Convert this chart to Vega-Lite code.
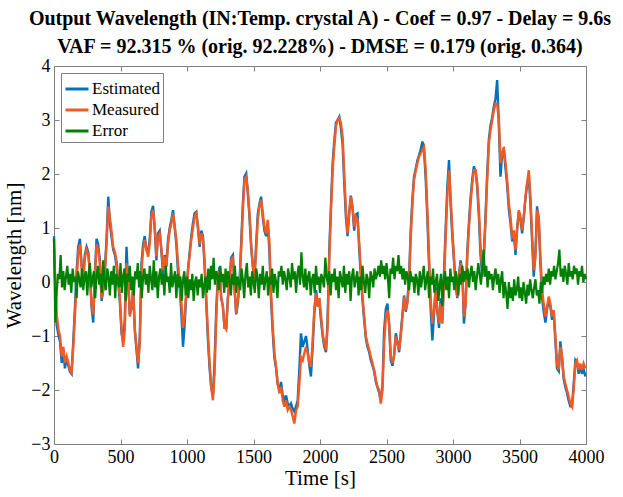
{
  "$schema": "https://vega.github.io/schema/vega-lite/v6.json",
  "width": 532,
  "height": 378,
  "autosize": {"type": "none"},
  "padding": {"left": 54, "top": 66, "right": 37, "bottom": 53},
  "background": "white",
  "config": {"font": "Liberation Serif", "view": {"stroke": null}, "axis": {"labelFont": "Liberation Serif", "titleFont": "Liberation Serif"}, "legend": {"labelFont": "Liberation Serif"}},
  "title": {
    "text": ["Output  Wavelength (IN:Temp. crystal A) - Coef = 0.97 - Delay = 9.6s", "VAF = 92.315 % (orig. 92.228%) - DMSE = 0.179 (orig. 0.364)"],
    "font": "Liberation Serif", "fontSize": 20, "fontWeight": "bold", "color": "black",
    "anchor": "middle", "offset": 0, "lineHeight": 28
  },
  "datasets": {
    "main": [
      {"t":0,"m":0.6,"e":0.85},{"t":10,"m":0.0,"e":-0.2},{"t":20,"m":-0.6,"e":-0.8},{"t":35,"m":-0.9,"e":-1.0},{"t":45,"m":-1.0,"e":-1.1},
      {"t":58,"m":-1.38,"e":-1.5},{"t":70,"m":-1.2,"e":-1.25},{"t":82,"m":-1.5,"e":-1.6},{"t":95,"m":-1.38,"e":-1.4},{"t":108,"m":-1.5,"e":-1.55},
      {"t":120,"m":-1.62,"e":-1.66},{"t":132,"m":-1.68,"e":-1.7},{"t":145,"m":-1.2,"e":-1.1},{"t":158,"m":-0.6,"e":-0.45},{"t":170,"m":0.0,"e":0.2},
      {"t":182,"m":0.55,"e":0.65},{"t":195,"m":0.7,"e":0.8},{"t":208,"m":0.25,"e":0.3},{"t":220,"m":0.05,"e":0.1},{"t":232,"m":0.45,"e":0.5},
      {"t":245,"m":0.6,"e":0.65},{"t":258,"m":0.5,"e":0.55},{"t":270,"m":0.2,"e":0.15},{"t":282,"m":-0.4,"e":-0.45},{"t":295,"m":-0.6,"e":-0.75},
      {"t":308,"m":0.1,"e":0.2},{"t":320,"m":0.7,"e":0.8},{"t":332,"m":0.6,"e":0.7},{"t":345,"m":0.35,"e":0.4},{"t":358,"m":-0.3,"e":-0.35},
      {"t":370,"m":-0.15,"e":-0.15},{"t":382,"m":0.15,"e":0.2},{"t":395,"m":0.7,"e":0.8},{"t":408,"m":1.4,"e":1.58},{"t":420,"m":1.2,"e":1.1},
      {"t":432,"m":0.95,"e":0.85},{"t":445,"m":0.65,"e":0.6},{"t":458,"m":0.55,"e":0.5},{"t":470,"m":0.4,"e":0.3},{"t":482,"m":0.1,"e":0.0},
      {"t":495,"m":-0.27,"e":-0.35},{"t":508,"m":-0.89,"e":-0.95},{"t":520,"m":-1.2,"e":-1.1},{"t":532,"m":-0.9,"e":-0.7},{"t":545,"m":0.35,"e":0.65},
      {"t":558,"m":0.1,"e":0.0},{"t":570,"m":-0.64,"e":-0.6},{"t":582,"m":-0.45,"e":-0.5},{"t":595,"m":-0.15,"e":-0.1},{"t":608,"m":-0.89,"e":-0.9},
      {"t":620,"m":-1.2,"e":-1.25},{"t":632,"m":-1.5,"e":-1.6},{"t":645,"m":-1.15,"e":-1.0},{"t":658,"m":0.2,"e":0.35},{"t":670,"m":0.6,"e":0.7},
      {"t":682,"m":0.78,"e":0.85},{"t":695,"m":0.6,"e":0.6},{"t":708,"m":0.47,"e":0.55},{"t":720,"m":0.72,"e":0.8},{"t":732,"m":1.21,"e":1.3},
      {"t":745,"m":1.33,"e":1.41},{"t":758,"m":1.02,"e":0.95},{"t":770,"m":0.47,"e":0.4},{"t":782,"m":0.84,"e":0.9},{"t":795,"m":0.9,"e":0.95},
      {"t":808,"m":0.6,"e":0.55},{"t":820,"m":0.22,"e":0.15},{"t":832,"m":0.47,"e":0.5},{"t":845,"m":0.28,"e":0.3},{"t":858,"m":0.72,"e":0.8},
      {"t":870,"m":0.96,"e":1.0},{"t":882,"m":1.08,"e":1.15},{"t":895,"m":1.27,"e":1.33},{"t":908,"m":1.02,"e":1.0},{"t":920,"m":0.78,"e":0.7},
      {"t":932,"m":0.35,"e":0.2},{"t":945,"m":0.04,"e":-0.1},{"t":958,"m":-0.4,"e":-0.6},{"t":970,"m":-0.85,"e":-1.2},{"t":982,"m":-0.65,"e":-0.8},
      {"t":995,"m":-0.15,"e":-0.2},{"t":1008,"m":0.2,"e":0.25},{"t":1020,"m":0.5,"e":0.55},{"t":1032,"m":0.78,"e":0.84},{"t":1045,"m":1.0,"e":1.1},
      {"t":1057,"m":1.21,"e":1.27},{"t":1070,"m":1.27,"e":1.3},{"t":1082,"m":1.05,"e":1.0},{"t":1095,"m":0.7,"e":0.65},{"t":1108,"m":0.9,"e":0.95},
      {"t":1120,"m":0.8,"e":0.85},{"t":1132,"m":0.4,"e":0.3},{"t":1145,"m":-0.3,"e":-0.4},{"t":1157,"m":-0.95,"e":-1.05},{"t":1170,"m":-1.5,"e":-1.6},
      {"t":1182,"m":-1.94,"e":-1.95},{"t":1195,"m":-2.19,"e":-2.1},{"t":1207,"m":-1.7,"e":-1.5},{"t":1220,"m":-0.65,"e":-0.5},{"t":1232,"m":0.04,"e":0.1},
      {"t":1245,"m":0.22,"e":0.28},{"t":1257,"m":-0.27,"e":-0.3},{"t":1270,"m":-0.46,"e":-0.45},{"t":1282,"m":-0.83,"e":-0.85},{"t":1295,"m":-0.88,"e":-0.85},
      {"t":1307,"m":-0.33,"e":-0.3},{"t":1320,"m":0.04,"e":0.0},{"t":1332,"m":0.4,"e":0.45},{"t":1345,"m":0.47,"e":0.5},{"t":1357,"m":-0.08,"e":-0.1},
      {"t":1370,"m":-0.58,"e":-0.6},{"t":1382,"m":-0.33,"e":-0.4},{"t":1395,"m":-0.08,"e":0.0},{"t":1407,"m":0.59,"e":0.7},{"t":1420,"m":1.33,"e":1.45},
      {"t":1432,"m":1.89,"e":1.95},{"t":1445,"m":1.95,"e":2.01},{"t":1457,"m":1.7,"e":1.65},{"t":1470,"m":1.27,"e":1.2},{"t":1482,"m":0.72,"e":0.65},
      {"t":1495,"m":0.28,"e":0.3},{"t":1507,"m":0.04,"e":0.1},{"t":1520,"m":0.59,"e":0.7},{"t":1532,"m":1.15,"e":1.25},{"t":1545,"m":1.4,"e":1.45},
      {"t":1557,"m":1.52,"e":1.58},{"t":1570,"m":1.27,"e":1.2},{"t":1582,"m":1.02,"e":0.95},{"t":1595,"m":0.9,"e":0.85},{"t":1607,"m":1.15,"e":1.1},
      {"t":1620,"m":0.72,"e":0.55},{"t":1632,"m":-0.21,"e":-0.35},{"t":1645,"m":-0.83,"e":-0.95},{"t":1657,"m":-1.32,"e":-1.4},{"t":1670,"m":-1.57,"e":-1.6},
      {"t":1682,"m":-1.88,"e":-1.9},{"t":1695,"m":-2.06,"e":-2.0},{"t":1707,"m":-1.94,"e":-1.85},{"t":1720,"m":-2.19,"e":-2.1},{"t":1732,"m":-2.31,"e":-2.2},
      {"t":1745,"m":-2.19,"e":-2.1},{"t":1757,"m":-2.37,"e":-2.25},{"t":1770,"m":-2.31,"e":-2.3},{"t":1782,"m":-2.37,"e":-2.25},{"t":1795,"m":-2.49,"e":-2.35},
      {"t":1807,"m":-2.62,"e":-2.4},{"t":1820,"m":-2.37,"e":-2.3},{"t":1832,"m":-2.31,"e":-2.2},{"t":1845,"m":-1.88,"e":-1.6},{"t":1857,"m":-1.39,"e":-0.95},
      {"t":1870,"m":-1.45,"e":-1.2},{"t":1882,"m":-1.32,"e":-1.1},{"t":1895,"m":-1.2,"e":-1.0},{"t":1907,"m":-1.32,"e":-1.25},{"t":1920,"m":-1.5,"e":-1.55},
      {"t":1932,"m":-1.57,"e":-1.75},{"t":1945,"m":-1.08,"e":-1.2},{"t":1957,"m":-0.52,"e":-0.6},{"t":1970,"m":-0.21,"e":-0.15},{"t":1982,"m":-0.46,"e":-0.4},
      {"t":1995,"m":-0.3,"e":-0.35},{"t":2007,"m":-0.6,"e":-0.7},{"t":2020,"m":-0.95,"e":-1.0},{"t":2032,"m":-1.14,"e":-1.2},{"t":2045,"m":-1.26,"e":-1.3},
      {"t":2057,"m":-0.85,"e":-0.7},{"t":2070,"m":0.47,"e":0.6},{"t":2082,"m":1.27,"e":1.4},{"t":2095,"m":2.07,"e":2.2},{"t":2107,"m":2.5,"e":2.6},
      {"t":2120,"m":2.88,"e":2.95},{"t":2132,"m":3.0,"e":3.0},{"t":2145,"m":3.04,"e":3.06},{"t":2157,"m":2.95,"e":2.85},{"t":2170,"m":2.69,"e":2.55},
      {"t":2182,"m":2.01,"e":1.85},{"t":2195,"m":1.33,"e":1.2},{"t":2207,"m":0.9,"e":0.85},{"t":2220,"m":1.27,"e":1.3},{"t":2232,"m":1.58,"e":1.6},
      {"t":2245,"m":1.4,"e":1.35},{"t":2257,"m":1.02,"e":0.95},{"t":2270,"m":1.21,"e":1.25},{"t":2282,"m":1.15,"e":1.27},{"t":2295,"m":0.72,"e":0.6},
      {"t":2307,"m":0.22,"e":0.1},{"t":2320,"m":-0.27,"e":-0.35},{"t":2332,"m":-0.64,"e":-0.7},{"t":2345,"m":-1.01,"e":-1.05},{"t":2357,"m":-1.14,"e":-1.2},
      {"t":2370,"m":-1.26,"e":-1.3},{"t":2382,"m":-1.38,"e":-1.45},{"t":2395,"m":-1.51,"e":-1.55},{"t":2407,"m":-1.63,"e":-1.65},{"t":2420,"m":-1.81,"e":-1.85},
      {"t":2432,"m":-1.94,"e":-1.95},{"t":2445,"m":-2.0,"e":-2.05},{"t":2457,"m":-2.25,"e":-2.2},{"t":2470,"m":-2.0,"e":-1.9},{"t":2482,"m":-1.14,"e":-0.9},
      {"t":2495,"m":-0.64,"e":-0.5},{"t":2507,"m":-0.52,"e":-0.4},{"t":2520,"m":-0.77,"e":-0.8},{"t":2532,"m":-1.38,"e":-1.45},{"t":2545,"m":-1.5,"e":-1.55},
      {"t":2557,"m":-1.38,"e":-1.35},{"t":2570,"m":-1.01,"e":-0.95},{"t":2582,"m":-1.14,"e":-1.1},{"t":2595,"m":-1.26,"e":-1.3},{"t":2607,"m":-1.01,"e":-0.95},
      {"t":2620,"m":-0.64,"e":-0.6},{"t":2632,"m":-0.27,"e":-0.25},{"t":2645,"m":-0.52,"e":-0.55},{"t":2657,"m":-0.4,"e":-0.35},{"t":2670,"m":0.0,"e":0.1},
      {"t":2682,"m":0.84,"e":0.95},{"t":2695,"m":1.46,"e":1.55},{"t":2707,"m":1.89,"e":1.95},{"t":2720,"m":2.07,"e":2.1},{"t":2732,"m":2.2,"e":2.25},
      {"t":2745,"m":2.32,"e":2.35},{"t":2757,"m":2.38,"e":2.45},{"t":2770,"m":2.44,"e":2.6},{"t":2782,"m":2.5,"e":2.45},{"t":2795,"m":2.07,"e":1.9},
      {"t":2807,"m":1.33,"e":1.2},{"t":2820,"m":0.47,"e":0.3},{"t":2832,"m":-0.33,"e":-0.5},{"t":2845,"m":-0.77,"e":-1.08},{"t":2857,"m":-0.52,"e":-0.6},
      {"t":2870,"m":-0.15,"e":-0.1},{"t":2882,"m":-0.52,"e":-0.55},{"t":2895,"m":-0.77,"e":-0.85},{"t":2907,"m":-0.4,"e":-0.3},{"t":2920,"m":-0.77,"e":-0.7},
      {"t":2932,"m":0.0,"e":0.15},{"t":2945,"m":0.84,"e":1.0},{"t":2957,"m":1.58,"e":1.75},{"t":2970,"m":2.07,"e":2.26},{"t":2982,"m":1.58,"e":1.45},
      {"t":2995,"m":0.96,"e":0.85},{"t":3007,"m":0.47,"e":0.4},{"t":3020,"m":0.0,"e":-0.05},{"t":3032,"m":-0.27,"e":-0.3},{"t":3045,"m":0.1,"e":0.15},
      {"t":3057,"m":0.35,"e":0.4},{"t":3070,"m":0.22,"e":0.2},{"t":3082,"m":-0.64,"e":-0.77},{"t":3095,"m":-0.4,"e":-0.4},{"t":3107,"m":0.47,"e":0.55},
      {"t":3120,"m":1.02,"e":1.1},{"t":3132,"m":1.46,"e":1.55},{"t":3145,"m":1.83,"e":1.9},{"t":3157,"m":2.07,"e":2.14},{"t":3170,"m":2.07,"e":2.05},
      {"t":3182,"m":1.83,"e":1.75},{"t":3195,"m":1.33,"e":1.2},{"t":3207,"m":0.65,"e":0.5},{"t":3220,"m":0.22,"e":0.1},{"t":3232,"m":0.47,"e":0.5},
      {"t":3245,"m":1.15,"e":1.25},{"t":3257,"m":1.89,"e":2.0},{"t":3270,"m":2.57,"e":2.65},{"t":3282,"m":2.81,"e":2.9},{"t":3295,"m":3.0,"e":3.05},
      {"t":3307,"m":3.18,"e":3.25},{"t":3320,"m":3.31,"e":3.4},{"t":3332,"m":3.3,"e":3.74},{"t":3345,"m":3.0,"e":2.9},{"t":3357,"m":2.2,"e":1.95},
      {"t":3370,"m":2.38,"e":2.4},{"t":3382,"m":2.5,"e":2.45},{"t":3395,"m":2.2,"e":2.1},{"t":3407,"m":1.89,"e":1.8},{"t":3420,"m":1.46,"e":1.35},
      {"t":3432,"m":1.21,"e":1.1},{"t":3445,"m":0.84,"e":0.75},{"t":3457,"m":0.9,"e":0.95},{"t":3470,"m":0.59,"e":0.5},{"t":3482,"m":0.96,"e":1.0},
      {"t":3495,"m":1.33,"e":1.3},{"t":3507,"m":1.21,"e":1.15},{"t":3520,"m":0.96,"e":0.9},{"t":3532,"m":1.21,"e":1.2},{"t":3545,"m":1.58,"e":1.55},
      {"t":3557,"m":1.83,"e":1.8},{"t":3570,"m":2.07,"e":1.95},{"t":3582,"m":1.58,"e":1.45},{"t":3595,"m":0.84,"e":0.75},{"t":3607,"m":0.22,"e":0.1},
      {"t":3620,"m":0.47,"e":0.55},{"t":3632,"m":1.33,"e":1.4},{"t":3645,"m":1.21,"e":1.1},{"t":3657,"m":0.47,"e":0.35},{"t":3670,"m":-0.15,"e":-0.3},
      {"t":3682,"m":-0.4,"e":-0.55},{"t":3695,"m":-0.64,"e":-0.75},{"t":3707,"m":-0.46,"e":-0.5},{"t":3720,"m":-0.27,"e":-0.35},{"t":3732,"m":-0.4,"e":-0.45},
      {"t":3745,"m":-0.64,"e":-0.7},{"t":3757,"m":-0.52,"e":-0.55},{"t":3770,"m":-1.01,"e":-1.1},{"t":3782,"m":-1.51,"e":-1.6},{"t":3795,"m":-1.63,"e":-1.65},
      {"t":3807,"m":-1.2,"e":-1.1},{"t":3820,"m":-1.38,"e":-1.4},{"t":3832,"m":-1.75,"e":-1.8},{"t":3845,"m":-1.88,"e":-1.95},{"t":3857,"m":-2.0,"e":-2.05},
      {"t":3870,"m":-2.12,"e":-2.2},{"t":3882,"m":-2.25,"e":-2.3},{"t":3895,"m":-2.31,"e":-2.3},{"t":3907,"m":-2.0,"e":-1.9},{"t":3920,"m":-1.51,"e":-1.45},
      {"t":3932,"m":-1.45,"e":-1.5},{"t":3945,"m":-1.63,"e":-1.7},{"t":3957,"m":-1.51,"e":-1.55},{"t":3970,"m":-1.63,"e":-1.7},{"t":3982,"m":-1.51,"e":-1.6},
      {"t":3995,"m":-1.6,"e":-1.75}
    ],
    "err": [
      {"t":0,"v":0.8},{"t":10,"v":-0.75},{"t":20,"v":-0.2},{"t":30,"v":0.15},{"t":40,"v":0.05},{"t":50,"v":0.5},{"t":60,"v":-0.1},{"t":70,"v":0.2},{"t":80,"v":-0.15},{"t":90,"v":0.1},
      {"t":100,"v":0.3},{"t":110,"v":-0.05},{"t":120,"v":0.15},{"t":130,"v":-0.2},{"t":140,"v":0.25},{"t":150,"v":0.0},{"t":160,"v":0.1},{"t":170,"v":-0.3},{"t":180,"v":0.2},{"t":190,"v":0.05},
      {"t":200,"v":-0.1},{"t":210,"v":0.25},{"t":220,"v":-0.15},{"t":230,"v":0.1},{"t":240,"v":0.2},{"t":250,"v":-0.25},{"t":260,"v":0.15},{"t":270,"v":0.35},{"t":280,"v":-0.1},{"t":290,"v":0.05},
      {"t":300,"v":0.2},{"t":310,"v":-0.3},{"t":320,"v":0.1},{"t":330,"v":0.3},{"t":340,"v":-0.05},{"t":350,"v":0.15},{"t":360,"v":-0.2},{"t":370,"v":0.4},{"t":380,"v":0.0},{"t":390,"v":-0.15},
      {"t":400,"v":0.25},{"t":410,"v":0.1},{"t":420,"v":-0.25},{"t":430,"v":0.2},{"t":440,"v":-0.05},{"t":450,"v":0.3},{"t":460,"v":-0.3},{"t":470,"v":0.15},{"t":480,"v":0.05},{"t":490,"v":-0.1},
      {"t":500,"v":0.35},{"t":510,"v":-0.2},{"t":520,"v":0.1},{"t":530,"v":0.25},{"t":540,"v":-0.35},{"t":550,"v":0.15},{"t":560,"v":0.0},{"t":570,"v":0.3},{"t":580,"v":-0.15},{"t":590,"v":0.1},
      {"t":600,"v":-0.25},{"t":610,"v":0.2},{"t":620,"v":0.05},{"t":630,"v":0.35},{"t":640,"v":-0.1},{"t":650,"v":0.2},{"t":660,"v":-0.3},{"t":670,"v":0.1},{"t":680,"v":0.25},{"t":690,"v":-0.05},
      {"t":700,"v":0.15},{"t":710,"v":-0.2},{"t":720,"v":0.3},{"t":730,"v":0.05},{"t":740,"v":-0.15},{"t":750,"v":0.4},{"t":760,"v":-0.1},{"t":770,"v":0.2},{"t":780,"v":-0.3},{"t":790,"v":0.1},
      {"t":800,"v":0.25},{"t":810,"v":-0.05},{"t":820,"v":0.15},{"t":830,"v":-0.25},{"t":840,"v":0.3},{"t":850,"v":0.0},{"t":860,"v":0.1},{"t":870,"v":-0.2},{"t":880,"v":0.35},{"t":890,"v":-0.1},
      {"t":900,"v":0.05},{"t":910,"v":0.2},{"t":920,"v":-0.3},{"t":930,"v":0.15},{"t":940,"v":-0.1},{"t":950,"v":0.1},{"t":960,"v":-0.35},{"t":970,"v":0.05},{"t":980,"v":0.2},{"t":990,"v":-0.25},
      {"t":1000,"v":0.1},{"t":1010,"v":-0.3},{"t":1020,"v":0.05},{"t":1030,"v":-0.15},{"t":1040,"v":0.15},{"t":1050,"v":-0.35},{"t":1060,"v":0.0},{"t":1070,"v":0.1},{"t":1080,"v":-0.25},{"t":1090,"v":0.05},
      {"t":1100,"v":-0.1},{"t":1110,"v":0.15},{"t":1120,"v":-0.3},{"t":1130,"v":-0.05},{"t":1140,"v":0.1},{"t":1150,"v":-0.2},{"t":1160,"v":0.25},{"t":1170,"v":-0.15},{"t":1180,"v":0.3},{"t":1190,"v":0.05},
      {"t":1200,"v":0.45},{"t":1210,"v":-0.05},{"t":1220,"v":0.2},{"t":1230,"v":0.1},{"t":1240,"v":-0.15},{"t":1250,"v":0.3},{"t":1260,"v":0.0},{"t":1270,"v":0.15},{"t":1280,"v":-0.2},{"t":1290,"v":0.25},
      {"t":1300,"v":-0.1},{"t":1310,"v":0.2},{"t":1320,"v":0.05},{"t":1330,"v":-0.25},{"t":1340,"v":0.15},{"t":1350,"v":-0.05},{"t":1360,"v":0.3},{"t":1370,"v":-0.2},{"t":1380,"v":0.1},{"t":1390,"v":0.0},
      {"t":1400,"v":-0.15},{"t":1410,"v":0.25},{"t":1420,"v":0.05},{"t":1430,"v":-0.3},{"t":1440,"v":0.15},{"t":1450,"v":0.35},{"t":1460,"v":-0.1},{"t":1470,"v":0.1},{"t":1480,"v":-0.25},{"t":1490,"v":0.2},
      {"t":1500,"v":0.0},{"t":1510,"v":-0.2},{"t":1520,"v":0.25},{"t":1530,"v":0.1},{"t":1540,"v":-0.3},{"t":1550,"v":0.15},{"t":1560,"v":-0.05},{"t":1570,"v":0.3},{"t":1580,"v":-0.15},{"t":1590,"v":0.05},
      {"t":1600,"v":0.2},{"t":1610,"v":-0.25},{"t":1620,"v":0.1},{"t":1630,"v":-0.05},{"t":1640,"v":0.25},{"t":1650,"v":-0.2},{"t":1660,"v":0.15},{"t":1670,"v":0.0},{"t":1680,"v":-0.3},{"t":1690,"v":0.2},
      {"t":1700,"v":0.1},{"t":1710,"v":0.3},{"t":1720,"v":-0.05},{"t":1730,"v":0.2},{"t":1740,"v":0.05},{"t":1750,"v":-0.15},{"t":1760,"v":0.25},{"t":1770,"v":0.1},{"t":1780,"v":-0.1},{"t":1790,"v":0.35},
      {"t":1800,"v":0.05},{"t":1810,"v":0.2},{"t":1820,"v":-0.2},{"t":1830,"v":0.15},{"t":1840,"v":0.3},{"t":1850,"v":-0.05},{"t":1860,"v":0.55},{"t":1870,"v":0.1},{"t":1880,"v":-0.1},{"t":1890,"v":0.25},
      {"t":1900,"v":-0.15},{"t":1910,"v":0.1},{"t":1920,"v":0.2},{"t":1930,"v":-0.25},{"t":1940,"v":0.05},{"t":1950,"v":0.15},{"t":1960,"v":-0.2},{"t":1970,"v":0.3},{"t":1980,"v":-0.05},{"t":1990,"v":0.1},
      {"t":2000,"v":-0.2},{"t":2010,"v":0.15},{"t":2020,"v":0.05},{"t":2030,"v":-0.1},{"t":2040,"v":0.45},{"t":2050,"v":0.1},{"t":2060,"v":-0.05},{"t":2070,"v":0.2},{"t":2080,"v":-0.25},{"t":2090,"v":0.15},
      {"t":2100,"v":0.0},{"t":2110,"v":0.25},{"t":2120,"v":-0.15},{"t":2130,"v":0.1},{"t":2140,"v":-0.3},{"t":2150,"v":0.2},{"t":2160,"v":0.05},{"t":2170,"v":-0.1},{"t":2180,"v":0.3},{"t":2190,"v":-0.2},
      {"t":2200,"v":0.15},{"t":2210,"v":-0.05},{"t":2220,"v":0.2},{"t":2230,"v":-0.35},{"t":2240,"v":0.1},{"t":2250,"v":0.25},{"t":2260,"v":-0.1},{"t":2270,"v":0.05},{"t":2280,"v":0.2},{"t":2290,"v":-0.25},
      {"t":2300,"v":0.1},{"t":2310,"v":-0.15},{"t":2320,"v":0.3},{"t":2330,"v":0.0},{"t":2340,"v":-0.2},{"t":2350,"v":0.15},{"t":2360,"v":0.05},{"t":2370,"v":-0.3},{"t":2380,"v":0.2},{"t":2390,"v":0.1},
      {"t":2400,"v":-0.1},{"t":2410,"v":0.25},{"t":2420,"v":0.05},{"t":2430,"v":0.15},{"t":2440,"v":0.3},{"t":2450,"v":0.1},{"t":2460,"v":0.4},{"t":2470,"v":0.15},{"t":2480,"v":0.3},{"t":2490,"v":0.05},
      {"t":2500,"v":0.35},{"t":2510,"v":0.1},{"t":2520,"v":-0.3},{"t":2530,"v":0.25},{"t":2540,"v":0.15},{"t":2550,"v":0.45},{"t":2560,"v":0.05},{"t":2570,"v":0.3},{"t":2580,"v":0.2},{"t":2590,"v":0.5},
      {"t":2600,"v":0.15},{"t":2610,"v":0.3},{"t":2620,"v":0.05},{"t":2630,"v":0.25},{"t":2640,"v":-0.05},{"t":2650,"v":0.2},{"t":2660,"v":0.1},{"t":2670,"v":-0.15},{"t":2680,"v":0.2},{"t":2690,"v":0.0},
      {"t":2700,"v":0.1},{"t":2710,"v":-0.2},{"t":2720,"v":0.15},{"t":2730,"v":0.05},{"t":2740,"v":-0.25},{"t":2750,"v":0.2},{"t":2760,"v":-0.1},{"t":2770,"v":0.1},{"t":2780,"v":0.3},{"t":2790,"v":-0.15},
      {"t":2800,"v":0.05},{"t":2810,"v":0.2},{"t":2820,"v":-0.3},{"t":2830,"v":0.1},{"t":2840,"v":-0.05},{"t":2850,"v":0.25},{"t":2860,"v":-0.2},{"t":2870,"v":0.0},{"t":2880,"v":0.15},{"t":2890,"v":-0.35},
      {"t":2900,"v":-0.05},{"t":2910,"v":0.15},{"t":2920,"v":-0.45},{"t":2930,"v":0.05},{"t":2940,"v":0.2},{"t":2950,"v":-0.15},{"t":2960,"v":0.1},{"t":2970,"v":-0.3},{"t":2980,"v":0.25},{"t":2990,"v":0.0},
      {"t":3000,"v":0.1},{"t":3010,"v":-0.15},{"t":3020,"v":0.2},{"t":3030,"v":0.05},{"t":3040,"v":-0.25},{"t":3050,"v":0.15},{"t":3060,"v":-0.05},{"t":3070,"v":0.3},{"t":3080,"v":0.0},{"t":3090,"v":0.2},
      {"t":3100,"v":0.05},{"t":3110,"v":0.25},{"t":3120,"v":-0.1},{"t":3130,"v":0.15},{"t":3140,"v":0.3},{"t":3150,"v":0.0},{"t":3160,"v":0.2},{"t":3170,"v":-0.15},{"t":3180,"v":0.1},{"t":3190,"v":0.35},
      {"t":3200,"v":0.15},{"t":3210,"v":-0.05},{"t":3220,"v":0.25},{"t":3230,"v":0.6},{"t":3240,"v":0.1},{"t":3250,"v":0.3},{"t":3260,"v":-0.1},{"t":3270,"v":0.2},{"t":3280,"v":0.05},{"t":3290,"v":0.15},
      {"t":3300,"v":-0.15},{"t":3310,"v":0.1},{"t":3320,"v":0.25},{"t":3330,"v":-0.05},{"t":3340,"v":0.15},{"t":3350,"v":-0.2},{"t":3360,"v":0.05},{"t":3370,"v":0.2},{"t":3380,"v":-0.3},{"t":3390,"v":0.0},
      {"t":3400,"v":-0.2},{"t":3410,"v":-0.5},{"t":3420,"v":0.0},{"t":3430,"v":-0.3},{"t":3440,"v":-0.1},{"t":3450,"v":-0.35},{"t":3460,"v":0.05},{"t":3470,"v":-0.25},{"t":3480,"v":-0.15},{"t":3490,"v":0.1},
      {"t":3500,"v":-0.3},{"t":3510,"v":-0.1},{"t":3520,"v":-0.35},{"t":3530,"v":0.0},{"t":3540,"v":-0.2},{"t":3550,"v":-0.4},{"t":3560,"v":-0.05},{"t":3570,"v":-0.25},{"t":3580,"v":0.05},{"t":3590,"v":-0.15},
      {"t":3600,"v":-0.3},{"t":3610,"v":-0.1},{"t":3620,"v":0.05},{"t":3630,"v":-0.25},{"t":3640,"v":-0.15},{"t":3650,"v":-0.4},{"t":3660,"v":0.0},{"t":3670,"v":-0.2},{"t":3680,"v":0.1},{"t":3690,"v":-0.05},
      {"t":3700,"v":0.15},{"t":3710,"v":0.0},{"t":3720,"v":0.25},{"t":3730,"v":-0.05},{"t":3740,"v":0.2},{"t":3750,"v":0.1},{"t":3760,"v":0.3},{"t":3770,"v":0.05},{"t":3780,"v":0.2},{"t":3790,"v":0.35},
      {"t":3800,"v":0.6},{"t":3810,"v":0.1},{"t":3820,"v":0.25},{"t":3830,"v":0.0},{"t":3840,"v":0.3},{"t":3850,"v":0.15},{"t":3860,"v":-0.05},{"t":3870,"v":0.35},{"t":3880,"v":0.1},{"t":3890,"v":0.2},
      {"t":3900,"v":0.05},{"t":3910,"v":0.3},{"t":3920,"v":0.15},{"t":3930,"v":0.25},{"t":3940,"v":-0.05},{"t":3950,"v":0.2},{"t":3960,"v":0.1},{"t":3970,"v":0.3},{"t":3980,"v":0.0},{"t":3990,"v":0.15},
      {"t":4000,"v":0.05}
    ]
  },
  "resolve": {"axis": {"x": "independent", "y": "independent"}},
  "layer": [
    {
      "encoding": {
        "x": {"field": "t", "type": "quantitative",
          "scale": {"domain": [0, 4000], "nice": false},
          "axis": {"title": "Time [s]", "values": [0,500,1000,1500,2000,2500,3000,3500,4000], "format": "d", "grid": false,
            "tickSize": -5, "labelPadding": 9, "labelFont": "Liberation Serif", "labelFontSize": 18, "labelColor": "black",
            "titleFont": "Liberation Serif", "titleFontSize": 21, "titleFontWeight": "normal",
            "titleColor": "black", "titlePadding": 1, "domainColor": "#808080", "tickColor": "#808080", "labelFlush": false}},
        "y": {"type": "quantitative",
          "scale": {"domain": [-3, 4], "nice": false},
          "axis": {"title": "Wavelength [nm]", "values": [-3,-2,-1,0,1,2,3,4], "format": "d", "grid": false,
            "tickSize": -5, "labelPadding": 9, "labelFont": "Liberation Serif", "labelFontSize": 18, "labelColor": "black",
            "titleFont": "Liberation Serif", "titleFontSize": 21, "titleFontWeight": "normal",
            "titleColor": "black", "titlePadding": 6, "domainColor": "#808080", "tickColor": "#808080"}}
      },
      "layer": [
        {"data": {"name": "main"}, "mark": {"type": "line", "strokeWidth": 2.4},
          "encoding": {"y": {"field": "e", "type": "quantitative"},
            "color": {"datum": "Estimated", "type": "nominal",
              "scale": {"domain": ["Estimated", "Measured", "Error"], "range": ["#0072BD", "#F25A24", "#008000"]},
              "legend": {"title": null, "orient": "none", "legendX": 7, "legendY": 7, "symbolType": "stroke", "symbolSize": 529,
                "symbolStrokeWidth": 3, "labelFontSize": 17, "labelFont": "Liberation Serif", "labelColor": "black",
                "strokeColor": "#808080", "fillColor": "white", "padding": 3, "rowPadding": -6, "labelOffset": 2}}}},
        {"data": {"name": "main"}, "mark": {"type": "line", "strokeWidth": 2.4},
          "encoding": {"y": {"field": "m", "type": "quantitative"}, "color": {"datum": "Measured", "type": "nominal"}}},
        {"data": {"name": "err"}, "mark": {"type": "line", "strokeWidth": 2.2},
          "encoding": {"y": {"field": "v", "type": "quantitative"}, "color": {"datum": "Error", "type": "nominal"}}}
      ]
    },
    {
      "data": {"name": "err"},
      "mark": {"type": "line", "opacity": 0},
      "encoding": {
        "x": {"field": "t", "type": "quantitative",
          "axis": {"orient": "top", "title": null, "labels": false, "values": [0,500,1000,1500,2000,2500,3000,3500,4000], "grid": false,
            "tickSize": -5, "domainColor": "#808080", "tickColor": "#808080"}},
        "y": {"field": "v", "type": "quantitative",
          "axis": {"orient": "right", "title": null, "labels": false, "values": [-3,-2,-1,0,1,2,3,4], "grid": false,
            "tickSize": -5, "domainColor": "#808080", "tickColor": "#808080"}}
      }
    }
  ]
}
